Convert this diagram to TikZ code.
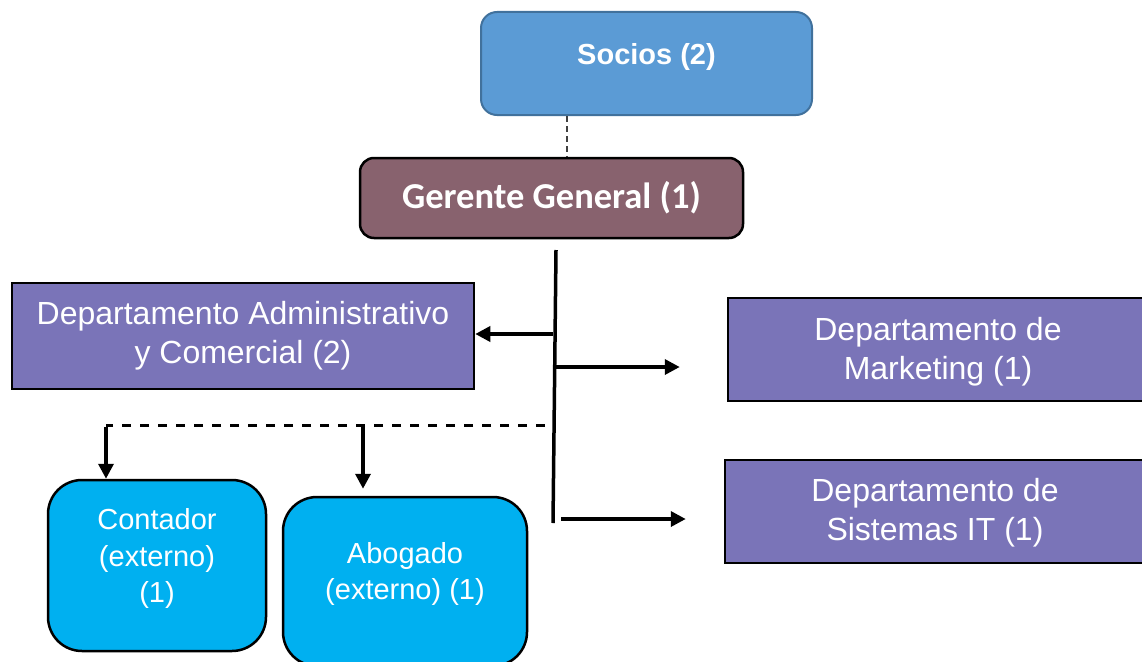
\documentclass[tikz,border=0pt]{standalone}
\usepackage{fontspec}
\setmainfont{Liberation Sans}
\newfontfamily\carlito{Carlito}
\usetikzlibrary{arrows.meta}
\definecolor{sociosblue}{HTML}{5B9BD5}
\definecolor{sociosedge}{HTML}{41719C}
\definecolor{gerentefill}{HTML}{88626E}
\definecolor{deptpurple}{HTML}{7A74B8}
\definecolor{extcyan}{HTML}{00B0F0}
\begin{document}
\begin{tikzpicture}[x=1pt,y=-1pt,
  deptbox/.style={draw=black, line width=2.5pt, fill=deptpurple, inner sep=0pt},
  extbox/.style={draw=black, line width=2.5pt, fill=extcyan, rounded corners=34pt, inner sep=0pt},
  boxtext/.style={text=white, align=center, font=\fontsize{32}{39}\selectfont},
  exttext/.style={text=white, align=center, font=\fontsize{29}{36.5}\selectfont},
  link/.style={line width=3.5pt, draw=black},
  arrow/.style={link, -{Triangle[length=15pt,width=15pt]}},
  dashlink/.style={line width=3pt, draw=black, dash pattern=on 9pt off 9pt},
]
\useasboundingbox (0,0) rectangle (1142,661);
\clip (0,0) rectangle (1142,661);

% top level
\node[draw=sociosedge, line width=2pt, fill=sociosblue, rounded corners=16pt,
      minimum width=331pt, minimum height=103pt, inner sep=0pt,
      label={[text=white, font=\bfseries\fontsize{29}{34}\selectfont, yshift=6pt]center:Socios (2)}]
  (socios) at (646.5,63.5) {};
\node[draw=black, line width=2.5pt, fill=gerentefill, rounded corners=14pt,
      minimum width=383pt, minimum height=80pt, inner sep=0pt,
      text=white, font=\carlito\bfseries\fontsize{36.5}{40}\selectfont]
  (gerente) at (551.5,198) {Gerente General (1)};

% departments
\node[deptbox, minimum width=462pt, minimum height=106pt, boxtext]
  (admin) at (243,336) {Departamento Administrativo\\y Comercial (2)};
\node[deptbox, minimum width=437pt, minimum height=103pt,
      label={[boxtext, xshift=-8.5pt, yshift=-2pt]center:Departamento de\\Marketing (1)}]
  (mkt) at (946.5,349.5) {};
\node[deptbox, minimum width=440pt, minimum height=103pt,
      label={[boxtext, xshift=-10pt, yshift=-1.5pt]center:Departamento de\\Sistemas IT (1)}]
  (sist) at (945,511.5) {};

% external advisers
\node[extbox, minimum width=218pt, minimum height=171pt,
      label={[exttext, yshift=7pt]center:Contador\\(externo)\\(1)}]
  (cont) at (157,565.5) {};
\node[extbox, minimum width=244pt, minimum height=169pt,
      label={[exttext, yshift=7.5pt]center:Abogado\\(externo) (1)}]
  (abog) at (405,581.5) {};

% Socios -- Gerente
\coordinate (sg) at (567,0);
\draw[line width=1.3pt, draw=black!75, dash pattern=on 6pt off 4pt]
  (socios.south -| sg) -- (gerente.north -| sg);

% trunk below Gerente General
\coordinate (ttop) at (556,250);
\coordinate (tbot) at (553,523);
\draw[link] (ttop) -- (tbot);

\coordinate (bA) at (553,334);
\coordinate (bM) at (555,367);
\coordinate (bS) at (561,519);
\draw[arrow] (bA) -- (bA -| admin.east);
\draw[arrow, shorten >=47pt] (bM) -- (bM -| mkt.west);
\draw[arrow, shorten >=38pt] (bS) -- (bS -| sist.west);

% dashed branch to external advisers
\coordinate (dR) at (545,425);
\coordinate (dL) at (106,425);
\coordinate (dM) at (363,425);
\draw[dashlink] (dR) -- (dL);
\draw[arrow] ([yshift=-2pt]dL) -- (dL |- cont.north);
\draw[arrow, shorten >=7pt] ([yshift=-2pt]dM) -- (dM |- abog.north);
\end{tikzpicture}
\end{document}
